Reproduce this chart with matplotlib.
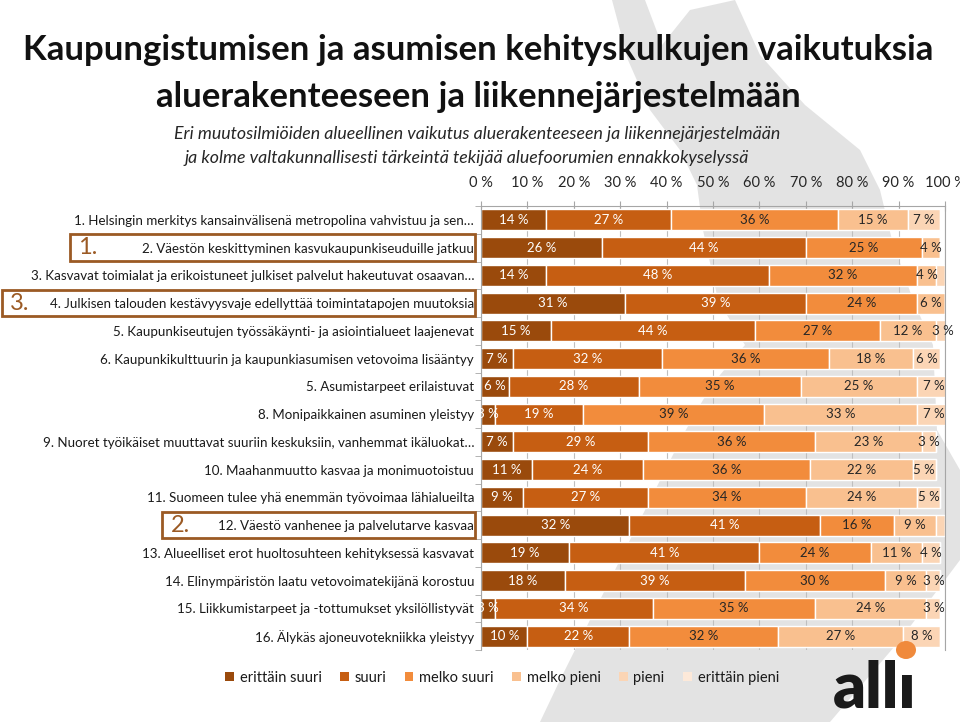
import numpy as np
import matplotlib
matplotlib.use("Agg")
import matplotlib.pyplot as plt
from matplotlib.patches import Patch, Rectangle, Polygon, Ellipse
from matplotlib.transforms import blended_transform_factory, IdentityTransform

plt.rcParams['font.family'] = ['Lato', 'DejaVu Sans']

# ---- data ----
kysymykset = [
    "1. Helsingin merkitys kansainvälisenä metropolina vahvistuu ja sen…",
    "2. Väestön keskittyminen kasvukaupunkiseuduille jatkuu",
    "3. Kasvavat toimialat ja erikoistuneet julkiset palvelut hakeutuvat osaavan…",
    "4. Julkisen talouden kestävyysvaje edellyttää toimintatapojen muutoksia",
    "5. Kaupunkiseutujen työssäkäynti- ja asiointialueet laajenevat",
    "6. Kaupunkikulttuurin ja kaupunkiasumisen vetovoima lisääntyy",
    "5. Asumistarpeet erilaistuvat",
    "8. Monipaikkainen asuminen yleistyy",
    "9. Nuoret työikäiset muuttavat suuriin keskuksiin, vanhemmat ikäluokat…",
    "10. Maahanmuutto kasvaa ja monimuotoistuu",
    "11. Suomeen tulee yhä enemmän työvoimaa lähialueilta",
    "12. Väestö vanhenee ja palvelutarve kasvaa",
    "13. Alueelliset erot huoltosuhteen kehityksessä kasvavat",
    "14. Elinympäristön laatu vetovoimatekijänä korostuu",
    "15. Liikkumistarpeet ja -tottumukset yksilöllistyvät",
    "16. Älykäs ajoneuvotekniikka yleistyy",
]
erittain_suuri = [14, 26, 14, 31, 15, 7, 6, 3, 7, 11, 9, 32, 19, 18, 3, 10]
suuri = [27, 44, 48, 39, 44, 32, 28, 19, 29, 24, 27, 41, 41, 39, 34, 22]
melko_suuri = [36, 25, 32, 24, 27, 36, 35, 39, 36, 36, 34, 16, 24, 30, 35, 32]
melko_pieni = [15, 4, 4, 6, 12, 18, 25, 33, 23, 22, 24, 9, 11, 9, 24, 27]
pieni = [7, 0, 2, 0, 3, 6, 7, 7, 3, 5, 5, 2, 4, 3, 3, 8]
erittain_pieni = [0] * 16

sarjat = ["erittäin suuri", "suuri", "melko suuri", "melko pieni", "pieni", "erittäin pieni"]
arvot = [erittain_suuri, suuri, melko_suuri, melko_pieni, pieni, erittain_pieni]
varit = ["#9a4a0c", "#c65e12", "#f28c3c", "#f9c08f", "#fbd5b5", "#fde9d9"]
tekstivarit = ["white", "white", "#262626", "#262626", "#262626", "#262626"]

# nostetut kolme tärkeintä (rivi-indeksi, numero, vasen reuna px)
korostukset = [(1, "1.", 70), (3, "3.", 2), (11, "2.", 162)]

W, H = 960, 722
fig = plt.figure(figsize=(W / 100, H / 100), dpi=100)

def px(x, y):
    return (x / W, 1 - y / H)

# harmaa Suomen kartta taustalla (karkea)
kartta = [(612, 0), (645, 0), (662, 45), (690, 10), (735, 0), (760, 55), (805, 105),
          (860, 150), (880, 190), (892, 240), (913, 300), (933, 345), (937, 430),
          (960, 470), (960, 560), (900, 640), (830, 722), (540, 722), (560, 680), (600, 600),
          (640, 520), (683, 435), (703, 400), (720, 375), (745, 345), (718, 300), (703, 230),
          (697, 185), (680, 150), (650, 110), (628, 60)]
fig.add_artist(Polygon([px(x, y) for x, y in kartta], closed=True, transform=fig.transFigure,
                       facecolor="#e3e3e3", edgecolor="none", zorder=-10))

ax = fig.add_axes([481 / W, 1 - 650 / H, (945 - 481) / W, (650 - 206) / H])
ax.set_facecolor("none")

y = np.arange(len(kysymykset))
vasen = np.zeros(len(kysymykset))
for nimi, data, vari, tv in zip(sarjat, arvot, varit, tekstivarit):
    data = np.array(data, dtype=float)
    ax.barh(y, data, left=vasen, height=0.76, color=vari, edgecolor="white",
            linewidth=1.0, label=nimi, zorder=2)
    for yi, (l, v) in enumerate(zip(vasen, data)):
        if v >= 3:
            ax.text(l + v / 2, yi, f"{int(v)} %", ha="center", va="center",
                    fontsize=9.5, color=tv, zorder=3, clip_on=False)
    vasen += data

ax.set_xlim(0, 100)
ax.set_ylim(len(kysymykset) - 0.5, -0.5)
ax.xaxis.tick_top()
ax.set_xticks(np.arange(0, 101, 10))
ax.set_xticklabels([f"{t} %" for t in range(0, 101, 10)], fontsize=10.5, color="#262626")
ax.tick_params(axis="x", direction="inout", length=7, pad=8, color="#a6a6a6")
ax.set_yticks(y)
ax.set_yticklabels(kysymykset, fontsize=9.6, color="#1a1a1a")
ax.tick_params(axis="y", length=0, pad=5)
ax.set_yticks(np.arange(-0.5, len(kysymykset), 1), minor=True)
ax.tick_params(axis="y", which="minor", length=4, color="#a6a6a6", direction="out")
ax.grid(axis="x", color="#bfbfbf", linewidth=0.8, zorder=0)
ax.set_axisbelow(True)
for s in ["top", "left", "right"]:
    ax.spines[s].set_color("#a6a6a6")
ax.spines["bottom"].set_visible(False)

# korostuslaatikot
sek = blended_transform_factory(fig.transFigure, ax.transData)
for rivi, numero, x0 in korostukset:
    fig.add_artist(Rectangle((x0 / W, rivi - 0.48), (475 - x0) / W, 0.96, transform=sek,
                             fill=False, edgecolor="#9b5a24", linewidth=2.0, clip_on=False))
    fig.text((x0 + 18) / W, rivi, numero, transform=sek, ha="center", va="center",
             fontsize=17, color="#9b5a24")

# otsikot
fig.text(*px(478, 50), "Kaupungistumisen ja asumisen kehityskulkujen vaikutuksia",
         ha="center", va="center", fontsize=25, fontweight="bold", color="#111111")
fig.text(*px(478, 97), "aluerakenteeseen ja liikennejärjestelmään",
         ha="center", va="center", fontsize=25, fontweight="bold", color="#111111")
fig.text(*px(477, 134), "Eri muutosilmiöiden alueellinen vaikutus aluerakenteeseen ja liikennejärjestelmään",
         ha="center", va="center", fontsize=12.8, style="italic", color="#262626")
fig.text(*px(467, 158), "ja kolme valtakunnallisesti tärkeintä tekijää aluefoorumien ennakkokyselyssä",
         ha="center", va="center", fontsize=12.8, style="italic", color="#262626")

# selite
kahvat = [Patch(facecolor=c, edgecolor="none") for c in varit]
fig.legend(kahvat, sarjat, loc="center", bbox_to_anchor=px(502, 678), ncol=6, frameon=False,
           fontsize=10.5, handlelength=0.6, handleheight=0.6, handletextpad=0.4,
           columnspacing=1.25, labelcolor="#1a1a1a")

# alli-logo
fig.text(*px(875, 708), "allı", ha="center", va="baseline", fontsize=46,
         fontweight="heavy", color="#1a1a1a")
fig.add_artist(Ellipse((906, H - 650), 20, 18, transform=IdentityTransform(),
                       facecolor="#f08a3c", edgecolor="none"))

fig.savefig("out.png", dpi=100)
